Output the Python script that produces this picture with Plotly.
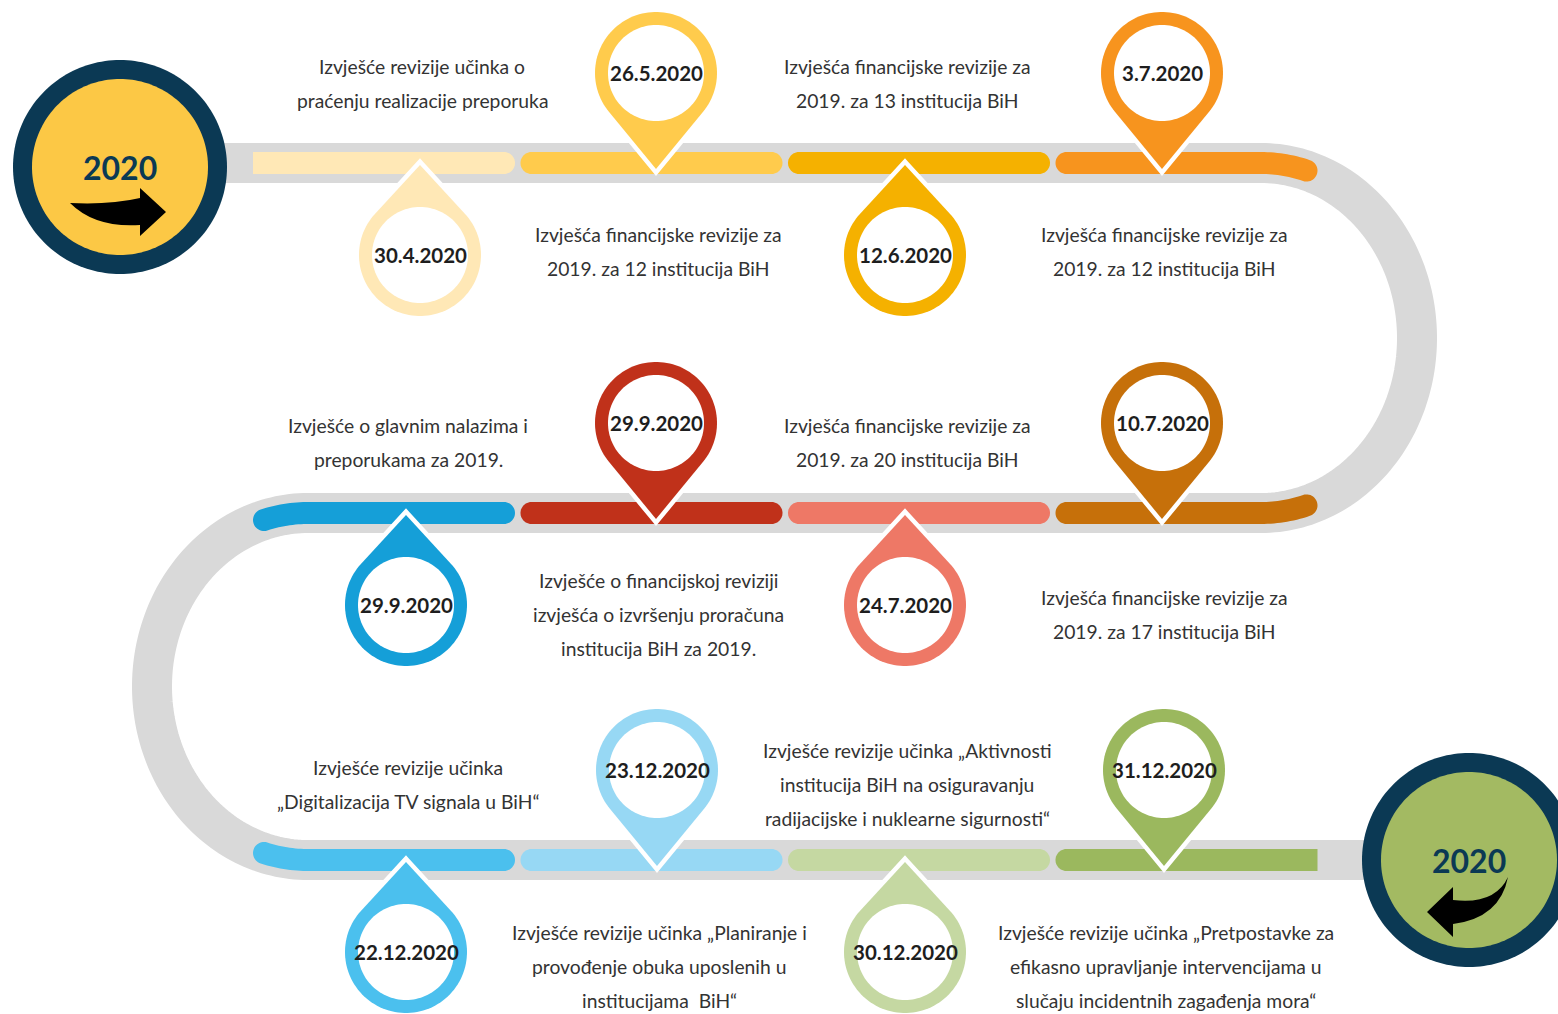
import numpy as np
import plotly.graph_objects as go

# ---------------- data ----------------
dates = ["30.4.2020", "26.5.2020", "12.6.2020", "3.7.2020",
         "10.7.2020", "24.7.2020", "29.9.2020", "29.9.2020",
         "22.12.2020", "23.12.2020", "30.12.2020", "31.12.2020"]

descriptions = [
    ["Izvješće revizije učinka o", "praćenju realizacije preporuka"],
    ["Izvješća financijske revizije za", "2019. za 12 institucija BiH"],
    ["Izvješća financijske revizije za", "2019. za 13 institucija BiH"],
    ["Izvješća financijske revizije za", "2019. za 12 institucija BiH"],
    ["Izvješća financijske revizije za", "2019. za 17 institucija BiH"],
    ["Izvješća financijske revizije za", "2019. za 20 institucija BiH"],
    ["Izvješće o financijskoj reviziji", "izvješća o izvršenju proračuna", "institucija BiH za 2019."],
    ["Izvješće o glavnim nalazima i", "preporukama za 2019."],
    ["Izvješće revizije učinka", "„Digitalizacija TV signala u BiH“"],
    ["Izvješće revizije učinka „Planiranje i", "provođenje obuka uposlenih u", "institucijama  BiH“"],
    ["Izvješće revizije učinka „Aktivnosti", "institucija BiH na osiguravanju", "radijacijske i nuklearne sigurnosti“"],
    ["Izvješće revizije učinka „Pretpostavke za", "efikasno upravljanje intervencijama u", "slučaju incidentnih zagađenja mora“"],
]

colors = ["#FFE8B6", "#FFCB4C", "#F5B100", "#F7941E",
          "#C6700A", "#EE7866", "#C0311A", "#159FD8",
          "#4BC0EE", "#97D8F4", "#C5D8A2", "#9BB85E"]

year_label = "2020"

# ---------------- layout constants ----------------
W, H = 1558, 1014
ROW_Y = [163, 513, 860]
PIN_X = [[420, 656, 905, 1162], [406, 656, 905, 1162], [406, 657, 905, 1164]]
SEG_X0, SEG_STEP, SEG_W, SEG_T = 253, 267.5, 262, 22
TRACK_W = 40
TRACK_COLOR = "#D9D9D9"
RIGHT_ARC = (1261, 338, 156, 175)
LEFT_ARC = (308, 686.5, 156, 173.5)
PIN_R, PIN_r = 61, 48
NAVY = "#0B3954"
TEXT_ABOVE = [-80, -71, -76]
TEXT_BELOW = [88, 101, 106]
LINE_H = 34
FONT = "Lato"
DESC_SIZE = 19.3
DATE_SIZE = 20.5


def centerline_y(row, x):
    if row == 0:
        cx, cy, rx, ry = RIGHT_ARC
        if x > cx:
            return cy - ry * np.sqrt(max(0.0, 1 - ((x - cx) / rx) ** 2))
    if row == 1:
        cx, cy, rx, ry = RIGHT_ARC
        if x > cx:
            return cy + ry * np.sqrt(max(0.0, 1 - ((x - cx) / rx) ** 2))
        cx, cy, rx, ry = LEFT_ARC
        if x < cx:
            return cy - ry * np.sqrt(max(0.0, 1 - ((cx - x) / rx) ** 2))
    if row == 2:
        cx, cy, rx, ry = LEFT_ARC
        if x < cx:
            return cy + ry * np.sqrt(max(0.0, 1 - ((cx - x) / rx) ** 2))
    return ROW_Y[row]


def poly_path(pts):
    return "M " + " L ".join(f"{x:.2f},{y:.2f}" for x, y in pts) + " Z"


def open_path(pts):
    return "M " + " L ".join(f"{x:.2f},{y:.2f}" for x, y in pts)


shapes = []

# ---- grey track ----
track = [(200, ROW_Y[0])]
cx, cy, rx, ry = RIGHT_ARC
for phi in np.linspace(-np.pi / 2, np.pi / 2, 120):
    track.append((cx + rx * np.cos(phi), cy + ry * np.sin(phi)))
cx, cy, rx, ry = LEFT_ARC
for phi in np.linspace(3 * np.pi / 2, np.pi / 2, 120):
    track.append((cx + rx * np.cos(phi), cy + ry * np.sin(phi)))
track.append((1410, ROW_Y[2]))
shapes.append(dict(type="path", path=open_path(track), line=dict(color=TRACK_COLOR, width=TRACK_W),
                   fillcolor="rgba(0,0,0,0)", xref="x", yref="y", layer="above"))


# ---- coloured segments ----
def segment(row, col, color, square_left=False, square_right=False):
    h = SEG_T / 2
    left = SEG_X0 + col * SEG_STEP
    right = left + SEG_W
    a = left if square_left else left + h
    b = right if square_right else right - h
    xs = np.linspace(a, b, 80)
    P = np.array([(x, centerline_y(row, x)) for x in xs])
    T = np.gradient(P, axis=0)
    T = T / np.linalg.norm(T, axis=1)[:, None]
    N = np.stack([-T[:, 1], T[:, 0]], axis=1)
    upper = P + N * h
    lower = P - N * h
    pts = list(map(tuple, upper))
    if not square_right:
        for th in np.linspace(0, np.pi, 24)[1:-1]:
            q = P[-1] + h * (np.cos(th) * N[-1] + np.sin(th) * T[-1])
            pts.append(tuple(q))
    pts += list(map(tuple, lower[::-1]))
    if not square_left:
        for th in np.linspace(0, np.pi, 24)[1:-1]:
            q = P[0] + h * (np.cos(th) * (-N[0]) + np.sin(th) * (-T[0]))
            pts.append(tuple(q))
    return dict(type="path", path=poly_path(pts), fillcolor=color, line=dict(width=0),
                xref="x", yref="y", layer="above")


n = len(dates)
cells = []
for i in range(n):
    row = i // 4
    k = i % 4
    col = k if row % 2 == 0 else 3 - k
    cells.append((row, col))

for i, (row, col) in enumerate(cells):
    shapes.append(segment(row, col, colors[i],
                          square_left=(row == 0 and col == 0),
                          square_right=(row == 2 and col == 3)))


# ---- pins ----
def teardrop(cxp, cyp, tx, ty, R):
    d = np.hypot(tx - cxp, ty - cyp)
    th_u = np.arctan2(ty - cyp, tx - cxp)
    al = np.arccos(R / d)
    pts = [(tx, ty)]
    for th in np.linspace(th_u + al, th_u + 2 * np.pi - al, 90):
        pts.append((cxp + R * np.cos(th), cyp + R * np.sin(th)))
    return poly_path(pts)


def circle(cxp, cyp, R, npts=120):
    return poly_path([(cxp + R * np.cos(t), cyp + R * np.sin(t))
                      for t in np.linspace(0, 2 * np.pi, npts, endpoint=False)])


annotations = []
pin_geo = []
for i, (row, col) in enumerate(cells):
    down = (col % 2 == 0)
    px = PIN_X[row][col]
    ry_ = ROW_Y[row]
    if down:
        pcy, tipy = ry_ + 92, ry_ + 2
    else:
        pcy, tipy = ry_ - 90, ry_ + 6
    pin_geo.append((px, pcy, tipy, down))
    shapes.append(dict(type="path", path=teardrop(px, pcy, px, tipy, PIN_R), fillcolor="white",
                       line=dict(color="white", width=9), xref="x", yref="y", layer="above"))
for i, (px, pcy, tipy, down) in enumerate(pin_geo):
    shapes.append(dict(type="path", path=teardrop(px, pcy, px, tipy, PIN_R), fillcolor=colors[i],
                       line=dict(width=0), xref="x", yref="y", layer="above"))
    shapes.append(dict(type="path", path=circle(px, pcy, PIN_r), fillcolor="white",
                       line=dict(width=0), xref="x", yref="y", layer="above"))
    annotations.append(dict(x=px, y=pcy, text=f"<b>{dates[i]}</b>", showarrow=False,
                            xref="x", yref="y", xanchor="center", yanchor="middle",
                            font=dict(family=FONT, size=DATE_SIZE, color="#1E1E1E")))

# ---- descriptions ----
for i, (row, col) in enumerate(cells):
    px, pcy, tipy, down = pin_geo[i]
    lines = descriptions[i]
    nl = len(lines)
    center = ROW_Y[row] + (TEXT_ABOVE[row] if down else TEXT_BELOW[row])
    for j, ln in enumerate(lines):
        yy = center + (j - (nl - 1) / 2) * LINE_H
        annotations.append(dict(x=px + 2, y=yy, text=ln, showarrow=False, xref="x", yref="y",
                                xanchor="center", yanchor="middle",
                                font=dict(family=FONT, size=DESC_SIZE, color="#333333")))

# ---- start / end circles ----
BIG = [(120, 167, "#FCC845", "right"), (1469, 860, "#A3BA62", "left")]
ARROW = "M {a},{b} Q {c},{d} {e},{f} L {g},{h} L {i},{j} L {k},{l} L {m},{n} Q {o},{p} {a},{b} Z"
for (bx, by, fill, direction) in BIG:
    shapes.append(dict(type="path", path=circle(bx, by, 107, 180), fillcolor=NAVY,
                       line=dict(width=0), xref="x", yref="y", layer="above"))
    shapes.append(dict(type="path", path=circle(bx, by, 88, 180), fillcolor=fill,
                       line=dict(width=0), xref="x", yref="y", layer="above"))
    if direction == "right":
        pts = dict(a=bx - 50, b=by + 36, c=bx - 10, d=by + 38, e=bx + 20, f=by + 31,
                   g=bx + 20, h=by + 21, i=bx + 46, j=by + 45, k=bx + 20, l=by + 69,
                   m=bx + 20, n=by + 58, o=bx - 25, p=by + 61)
    else:
        pts = dict(a=bx + 39, b=by + 17, c=bx + 26, d=by + 45, e=bx - 16, f=by + 40,
                   g=bx - 16, h=by + 27, i=bx - 42, j=by + 52, k=bx - 16, l=by + 77,
                   m=bx - 16, n=by + 64, o=bx + 31, p=by + 58)
    shapes.append(dict(type="path", path=ARROW.format(**pts), fillcolor="black",
                       line=dict(width=0), xref="x", yref="y", layer="above"))
    annotations.append(dict(x=bx, y=by, text=f"<b>{year_label}</b>", showarrow=False,
                            xref="x", yref="y", xanchor="center", yanchor="middle",
                            font=dict(family=FONT, size=32, color=NAVY)))

fig = go.Figure()
fig.add_trace(go.Scatter(x=[0, W], y=[0, H], mode="markers", marker=dict(opacity=0),
                         hoverinfo="skip", showlegend=False))
fig.update_layout(
    width=W, height=H, margin=dict(l=0, r=0, t=0, b=0),
    paper_bgcolor="white", plot_bgcolor="white",
    xaxis=dict(range=[0, W], visible=False, fixedrange=True),
    yaxis=dict(range=[H, 0], visible=False, fixedrange=True),
    shapes=shapes, annotations=annotations, showlegend=False,
)
fig.write_html("out.html", config=dict(displayModeBar=False),
               post_script="document.body.style.margin='0px';document.body.style.overflow='hidden';")
